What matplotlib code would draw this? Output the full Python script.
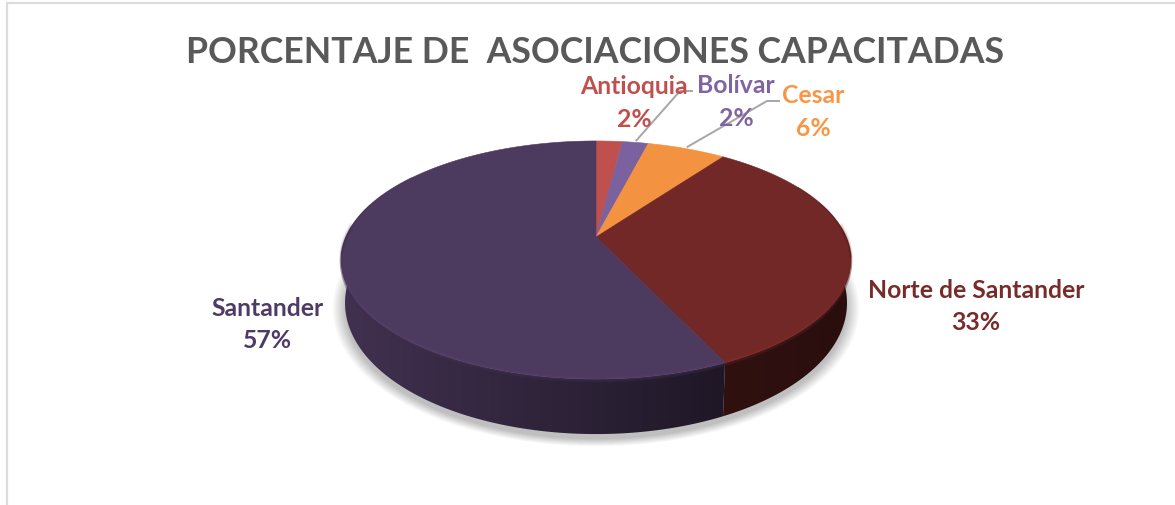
from matplotlib import pyplot as plt
from matplotlib.patches import Polygon
import numpy as np

plt.rcParams['font.family'] = ['Lato', 'DejaVu Sans']

title = 'PORCENTAJE DE  ASOCIACIONES CAPACITADAS'
categories = ['Antioquia', 'Bolívar', 'Cesar', 'Norte de Santander', 'Santander']
values = [2, 2, 6, 33, 57]
top_colors = ['#c0504d', '#7c619f', '#f39240', '#722826', '#4d3a5f']
text_colors = ['#c0504d', '#8064a2', '#f79646', '#772c2a', '#4f3a66']
label_pos = [(634, 86), (736, 85), (813, 95), (976, 290), (268, 308)]
elbows = [None, (680, 92), (767, 102), None, None]  # leader lines

# perspective of the pie, in pixels
cx, cy = 596, 238
A, B, k = 250, 114.6, 0.1933


def project(theta):
    # theta clockwise from 12 o'clock
    u, v = np.sin(theta), np.cos(theta)
    d = 1 + k * v
    return cx + A * u / d, cy - B * v / d


def project_low(theta):
    x, y = project(theta)
    v = np.cos(theta)
    return cx + (x - cx) * 0.985, y + 40 - 15 * v


def rgb(c):
    return np.array([int(c[i:i + 2], 16) / 255 for i in (1, 3, 5)])


fig = plt.figure(figsize=(11.75, 5.06), dpi=100)
ax = fig.add_axes([0, 0, 1, 1])
ax.axis('off')

# chart frame
ax.plot([6.5, 6.5, 1175], [506, 3.5, 3.5], color='#dcdcdc', lw=1.6, solid_joinstyle='miter')

edges = np.cumsum([0] + values) / sum(values) * 2 * np.pi

# soft shadow
t = np.linspace(0, 2 * np.pi, 361)
sx, sy = project_low(t)
my = sy.mean()
for s in np.linspace(1.05, 1.0, 16):
    ax.fill(cx + (sx - cx) * s, my + (sy - my) * s + 5, color='#000000', alpha=0.014, lw=0)

# side wall, a gradient clipped to the visible part of the two big slices
wall_x = [[720, 855], [335, 450, 600, 725]]
wall_f = [[0.42, 0.36], [0.86, 0.72, 0.55, 0.40]]
for n, i in enumerate((3, 4)):
    th = np.linspace(edges[i], edges[i + 1], 300)
    th = th[np.cos(th) < 0.3]
    x, y = project(th)
    xl, yl = project_low(th)
    poly = Polygon(np.c_[np.r_[x, xl[::-1]], np.r_[y, yl[::-1]]], closed=True, transform=ax.transData, fc='none', ec='none')
    ax.add_patch(poly)
    xs = np.linspace(330, 860, 530)
    f = np.interp(xs, wall_x[n], wall_f[n])
    grad = (rgb(top_colors[i])[None, :] * f[:, None])[None, :, :]
    im = ax.imshow(grad, extent=(330, 860, 450, 200), aspect='auto', interpolation='bilinear', zorder=2)
    im.set_clip_path(poly)

# top surface
for i in range(len(values)):
    th = np.linspace(edges[i], edges[i + 1], max(values[i] * 4, 8))
    x, y = project(th)
    ax.fill(np.r_[cx, x], np.r_[cy, y], color=top_colors[i], lw=0.4, zorder=3)

# bevel on the front of the rim
for i in (3, 4):
    th = np.linspace(edges[i], edges[i + 1], 300)
    th = th[np.cos(th) < 0.1]
    x, y = project(th)
    base = rgb(top_colors[i])
    for dy, lw, al in [(-2.5, 3, 0.08), (-1, 2, 0.16), (0.5, 1.4, 0.2)]:
        ax.plot(x, y + dy, color=np.clip(base * 1.2, 0, 1), lw=lw, alpha=al, solid_capstyle='butt', zorder=4)
    ax.plot(x, y + 2, color=base * 0.8, lw=2, alpha=0.35, solid_capstyle='butt', zorder=4)

# dark upper rim at both ends of the pie
for c, a0, a1 in [('#3a1210', 62, 100), ('#33254a', 262, 305)]:
    th = np.radians(np.linspace(a0, a1, 100))
    x, y = project(th)
    ax.plot(x, y, color=c, lw=1.0, alpha=0.35, zorder=4)

# leader lines
for i in range(len(values)):
    if elbows[i] is None:
        continue
    mid = (edges[i] + edges[i + 1]) / 2
    x0, y0 = project(mid)
    ex, ey = elbows[i]
    ax.plot([x0 + 1, ex, ex + 12], [y0 - 2, ey, ey], color='#a6a6a6', lw=1.4, zorder=5)

# labels
for i in range(len(values)):
    lx, ly = label_pos[i]
    ax.text(lx, ly, categories[i], color=text_colors[i], fontsize=17.8, fontweight='bold', ha='center', va='center', zorder=6)
    ax.text(lx, ly + 33, '%d%%' % values[i], color=text_colors[i], fontsize=17.8, fontweight='bold', ha='center', va='center', zorder=6)

ax.text(595.5, 52, title, color='#595959', fontsize=25.7, fontweight='bold', ha='center', va='center', zorder=6)

ax.set_xlim(0, 1175)
ax.set_ylim(506, 0)

fig.savefig('out.png', dpi=100, facecolor='white')
